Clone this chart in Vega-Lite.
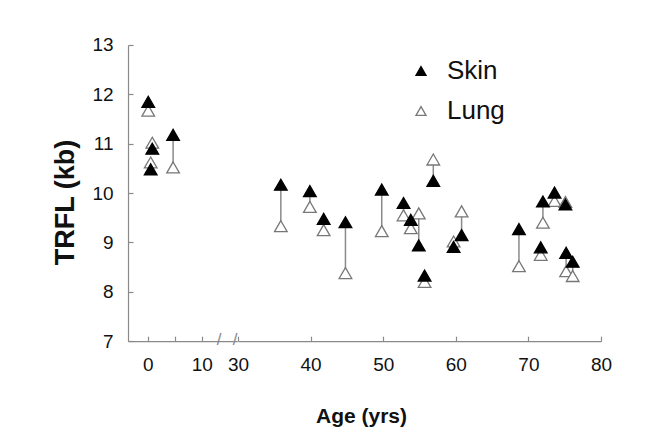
{
  "$schema": "https://vega.github.io/schema/vega-lite/v6.json",
  "padding": {"left": 51, "top": 36, "right": 5, "bottom": 5},
  "background": "white",
  "spacing": 0,
  "bounds": "flush",
  "config": {
    "view": {"stroke": null},
    "font": "Liberation Sans",
    "axis": {
      "domainColor": "#8a8a8a",
      "tickColor": "#8a8a8a",
      "domainWidth": 1.2,
      "tickWidth": 1.2,
      "tickSize": -5,
      "grid": false,
      "labelFont": "Liberation Sans",
      "labelFontSize": 19,
      "labelColor": "#111",
      "labelFlush": false,
      "labelOverlap": false,
      "titleFont": "Liberation Sans",
      "titleFontWeight": "bold",
      "titleColor": "#111"
    }
  },
  "data": {
    "values": [
      {"age": 0.1, "Skin": 11.85, "Lung": 11.67},
      {"age": 0.85, "Skin": 10.9, "Lung": 11.02},
      {"age": 0.55, "Skin": 10.48, "Lung": 10.62},
      {"age": 4.7, "Skin": 11.18, "Lung": 10.52},
      {"age": 35.9, "Skin": 10.17, "Lung": 9.33},
      {"age": 39.9, "Skin": 10.04, "Lung": 9.72},
      {"age": 41.8, "Skin": 9.48, "Lung": 9.25},
      {"age": 44.8, "Skin": 9.41, "Lung": 8.38},
      {"age": 49.8, "Skin": 10.07, "Lung": 9.23},
      {"age": 52.8, "Skin": 9.8, "Lung": 9.55},
      {"age": 53.8, "Skin": 9.46, "Lung": 9.29},
      {"age": 54.9, "Skin": 8.94, "Lung": 9.59},
      {"age": 55.7, "Skin": 8.33, "Lung": 8.2},
      {"age": 56.9, "Skin": 10.25, "Lung": 10.68},
      {"age": 59.7, "Skin": 8.91, "Lung": 9.02},
      {"age": 60.8, "Skin": 9.15, "Lung": 9.63},
      {"age": 68.7, "Skin": 9.27, "Lung": 8.52},
      {"age": 71.7, "Skin": 8.9, "Lung": 8.75},
      {"age": 72.0, "Skin": 9.83, "Lung": 9.4},
      {"age": 73.6, "Skin": 10.01, "Lung": 9.84},
      {"age": 75.1, "Skin": 9.77, "Lung": 9.82},
      {"age": 75.2, "Skin": 8.79, "Lung": 8.42},
      {"age": 76.1, "Skin": 8.61, "Lung": 8.32}
    ]
  },
  "resolve": {
    "scale": {"fill": "independent", "stroke": "independent"},
    "legend": {"fill": "independent", "stroke": "independent"}
  },
  "hconcat": [
    {
      "width": 109.2,
      "height": 296.2,
      "layer": [
        {
          "transform": [{"filter": "datum.age < 20"}],
          "mark": {"type": "rule", "color": "#8a8a8a", "strokeWidth": 1.5},
          "encoding": {
            "x": {
              "field": "age", "type": "quantitative",
              "scale": {"domain": [-3.65, 16.57], "nice": false, "zero": false},
              "axis": {
                "values": [0, 5, 10],
                "labelExpr": "datum.value % 10 === 0 ? datum.label : ''",
                "labelPadding": 19,
                "title": null
              }
            },
            "y": {
              "field": "Skin", "type": "quantitative",
              "scale": {"domain": [7, 13], "nice": false, "zero": false},
              "axis": {
                "values": [7, 7.5, 8, 8.5, 9, 9.5, 10, 10.5, 11, 11.5, 12, 12.5, 13],
                "labelExpr": "datum.value % 1 === 0 ? datum.label : ''",
                "labelPadding": 20,
                "title": "TRFL (kb)",
                "titleFontSize": 27,
                "titleX": -63,
                "titleY": 157,
                "titleBaseline": "middle",
                "titleAngle": 270
              }
            },
            "y2": {"field": "Lung"}
          }
        },
        {
          "transform": [
            {"filter": "datum.age < 20"},
            {"fold": ["Lung", "Skin"], "as": ["tissue", "trfl"]}
          ],
          "mark": {"type": "point", "shape": "triangle-up", "size": 160, "filled": true, "strokeWidth": 1.3, "opacity": 1},
          "encoding": {
            "x": {"field": "age", "type": "quantitative"},
            "y": {"field": "trfl", "type": "quantitative"},
            "fill": {"field": "tissue", "type": "nominal", "scale": {"domain": ["Skin", "Lung"], "range": ["#000000", "#ffffff"]}, "legend": null},
            "stroke": {"field": "tissue", "type": "nominal", "scale": {"domain": ["Skin", "Lung"], "range": ["#000000", "#777777"]}, "legend": null},
            "order": {"field": "tissue", "sort": "ascending"}
          }
        },
        {
          "data": {"values": [{}]},
          "mark": {"type": "text", "text": "/", "fontSize": 17, "color": "#8a8a8a", "baseline": "middle", "align": "center", "dy": -1},
          "encoding": {
            "x": {"datum": 13.2, "type": "quantitative"},
            "y": {"datum": 7, "type": "quantitative"}
          }
        },
        {
          "data": {"values": [{}]},
          "mark": {"type": "text", "text": "/", "fontSize": 17, "color": "#8a8a8a", "baseline": "middle", "align": "center", "dy": -1},
          "encoding": {
            "x": {"datum": 16.2, "type": "quantitative"},
            "y": {"datum": 7, "type": "quantitative"}
          }
        }
      ]
    },
    {
      "width": 363,
      "height": 296.2,
      "layer": [
        {
          "transform": [{"filter": "datum.age >= 20"}],
          "mark": {"type": "rule", "color": "#8a8a8a", "strokeWidth": 1.5},
          "encoding": {
            "x": {
              "field": "age", "type": "quantitative",
              "scale": {"domain": [30, 80], "nice": false, "zero": false},
              "axis": {
                "values": [30, 35, 40, 45, 50, 55, 60, 65, 70, 75, 80],
                "labelExpr": "datum.value % 10 === 0 ? datum.label : ''",
                "labelPadding": 19,
                "title": "Age (yrs)",
                "titleFontSize": 21,
                "titleX": 123,
                "titleY": 75,
                "titleBaseline": "middle"
              }
            },
            "y": {
              "field": "Skin", "type": "quantitative",
              "scale": {"domain": [7, 13], "nice": false, "zero": false},
              "axis": null
            },
            "y2": {"field": "Lung"}
          }
        },
        {
          "transform": [
            {"filter": "datum.age >= 20"},
            {"fold": ["Lung", "Skin"], "as": ["tissue", "trfl"]}
          ],
          "mark": {"type": "point", "shape": "triangle-up", "size": 160, "filled": true, "strokeWidth": 1.3, "opacity": 1},
          "encoding": {
            "x": {"field": "age", "type": "quantitative"},
            "y": {"field": "trfl", "type": "quantitative"},
            "fill": {
              "field": "tissue", "type": "nominal",
              "scale": {"domain": ["Skin", "Lung"], "range": ["#000000", "#ffffff"]},
              "legend": {"orient": "none", "legendX": 170, "legendY": 13, "title": null, "symbolType": "triangle-up", "symbolSize": 100, "symbolStrokeWidth": 1.3, "labelFontSize": 26, "labelFont": "Liberation Sans", "labelColor": "#111", "rowPadding": 14, "labelOffset": 13, "padding": 0}
            },
            "stroke": {
              "field": "tissue", "type": "nominal",
              "scale": {"domain": ["Skin", "Lung"], "range": ["#000000", "#777777"]},
              "legend": {"orient": "none", "legendX": 170, "legendY": 13, "title": null, "symbolType": "triangle-up", "symbolSize": 100, "symbolStrokeWidth": 1.3, "labelFontSize": 26, "labelFont": "Liberation Sans", "labelColor": "#111", "rowPadding": 14, "labelOffset": 13, "padding": 0}
            },
            "order": {"field": "tissue", "sort": "ascending"}
          }
        }
      ]
    }
  ]
}
